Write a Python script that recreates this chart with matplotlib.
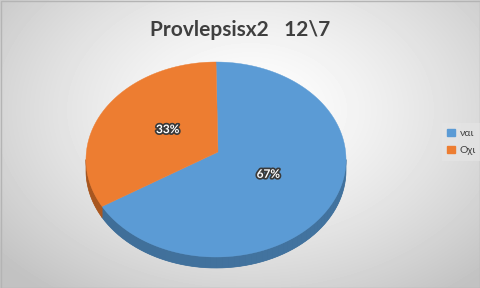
import numpy as np
import matplotlib.pyplot as plt
import matplotlib.patheffects as pe
from matplotlib.colors import to_rgb
from matplotlib.patches import Polygon, Patch

# data
labels = ["ναι", "Οχι"]
values = [67, 33]
colors = ["#5B9BD5", "#ED7D31"]
side_colors = ["#41719C", "#AE5A21"]
title = "Provlepsisx2   12\\7"

plt.rcParams["font.family"] = ["Lato", "DejaVu Sans"]

W, H = 481, 288
fig = plt.figure(figsize=(W / 100, H / 100), dpi=100)

# radial gradient background
bg = fig.add_axes([0, 0, 1, 1])
yy, xx = np.mgrid[0:H, 0:W]
r = np.sqrt(((xx - 250) / 330.0) ** 2 + ((yy - 110) / 230.0) ** 2)
shade = 1.0 - 0.24 * np.clip(r, 0, 1) ** 1.4
bg.imshow(shade, cmap="gray", vmin=0, vmax=1, extent=(0, W, H, 0), aspect="auto")
bg.set_xlim(0, W)
bg.set_ylim(H, 0)
bg.axis("off")
bg.add_patch(plt.Rectangle((0.5, 0.5), W - 1, H - 1, fill=False, ec="#b4b4b4", lw=1))

ax = fig.add_axes([0, 0, 1, 1])
ax.set_xlim(0, W)
ax.set_ylim(H, 0)
ax.axis("off")

cx, cy = 216, 159.5      # ellipse centre (pixels)
vx, vy = 218, 152        # wedge apex
rx, ry = 130, 97.5
depth = 11


def rim(a):
    t = np.radians(a)
    return cx + rx * np.cos(t), cy - ry * np.sin(t)


# wedge angle ranges, clockwise from 12 o'clock
total = sum(values)
ranges = []
start = 90.0
for v in values:
    end = start - 360.0 * v / total
    ranges.append((end, start))
    start = end

# sides (front half, angles 180..360)
for (a0, a1), sc in zip(ranges, side_colors):
    for off in (0, 360, -360):
        lo, hi = max(a0 + off, 180), min(a1 + off, 360)
        if lo >= hi:
            continue
        angs = np.linspace(lo, hi, 60)
        top = [rim(a) for a in angs]
        bot = [(x, y + depth) for x, y in top[::-1]]
        ax.add_patch(Polygon(top + bot, closed=True, fc=sc, ec=sc, lw=0.5))
        for i in range(len(angs) - 1):
            xa, ya = top[i]
            xb, yb = top[i + 1]
            k = 0.9 + 0.12 * np.sin(np.radians((angs[i] - 180) / 2 + 20))
            c = np.clip(np.array(to_rgb(sc)) * k, 0, 1)
            ax.add_patch(Polygon([(xa, ya), (xb, yb), (xb, yb + depth), (xa, ya + depth)],
                                 closed=True, fc=c, ec="none"))

# top faces
for (a0, a1), c in zip(ranges, colors):
    angs = np.linspace(a0, a1, 200)
    pts = [(vx, vy)] + [rim(a) for a in angs]
    ax.add_patch(Polygon(pts, closed=True, fc=c, ec=c, lw=0.3))

# percentage labels
for (a0, a1), v in zip(ranges, values):
    m = np.radians((a0 + a1) / 2)
    lx = vx + 0.45 * rx * np.cos(m)
    ly = vy - 0.45 * ry * np.sin(m)
    ax.text(lx, ly, f"{round(100 * v / total)}%", ha="center", va="center",
            fontsize=8.5, fontweight="bold", color="white",
            path_effects=[pe.withStroke(linewidth=2.5, foreground="#3a3a3a")])

ax.text(240, 30, title, ha="center", va="center", fontsize=15,
        fontweight="bold", color="#3f3f3f")

handles = [Patch(fc=c, ec=c) for c in colors]
leg = fig.legend(handles, labels, loc="center left", bbox_to_anchor=(437 / W, 1 - 142 / H),
                 frameon=True, fontsize=7.5, handlelength=0.7, handleheight=0.7,
                 handletextpad=0.5, labelspacing=0.8, borderpad=0.5, fancybox=False,
                 labelcolor="#404040")
leg.get_frame().set_facecolor("#e6e6e6")
leg.get_frame().set_edgecolor("none")
leg.get_frame().set_alpha(0.6)

fig.savefig("out.png", dpi=100)
